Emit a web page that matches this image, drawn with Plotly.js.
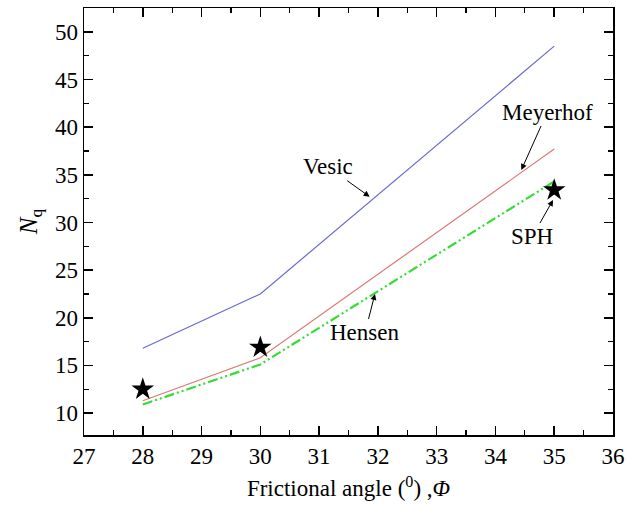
<!DOCTYPE html>
<html><head><meta charset="utf-8">
<script src="https://cdn.plot.ly/plotly-3.0.1.min.js"></script>
<style>html,body{margin:0;padding:0;background:#fff}#c{width:627px;height:523px}</style>
</head><body><div id="c"></div>
<script>
const angles = [28, 30, 35];
const vesic = [16.8, 22.5, 48.5];
const meyerhof = [11.3, 15.8, 37.7];
const hensen = [10.9, 15.1, 34.3];
const sph = [12.5, 16.9, 33.4];

const F = 'Liberation Serif';
const traces = [
  {x: angles, y: vesic, mode: 'lines', line: {color: '#6a6ad2', width: 1.2}, name: 'Vesic'},
  {x: angles, y: meyerhof, mode: 'lines', line: {color: '#e07878', width: 1.2}, name: 'Meyerhof'},
  {x: angles, y: hensen, mode: 'lines', line: {color: '#33dd33', width: 2.2, dash: '10px,3px,2px,3px,2px,3px'}, name: 'Hensen'},
  {x: angles, y: sph, mode: 'markers', marker: {symbol: 'star', size: 17, color: '#000'}, name: 'SPH'}
];
const ax = {
  showline: true, linecolor: '#000', linewidth: 1.5, mirror: 'ticks',
  ticks: 'inside', ticklen: 9, tickwidth: 1.5, tickcolor: '#000',
  showgrid: false, zeroline: false,
  tickfont: {family: F, size: 23, color: '#000'}
};
const ann = (txt, x, y, axp, ayp) => ({x, y, ax: axp, ay: ayp, text: txt, showarrow: true,
  arrowhead: 2, arrowsize: 1.2, arrowwidth: 1, arrowcolor: '#000',
  font: {family: F, size: 23, color: '#000'}});
const layout = {
  width: 627, height: 523, showlegend: false,
  paper_bgcolor: '#fff', plot_bgcolor: '#fff',
  font: {family: F, color: '#000'},
  margin: {l: 84, r: 14, t: 8, b: 88},
  xaxis: Object.assign({}, ax, {range: [27, 36], dtick: 1, tick0: 27,
    minor: {ticks: 'inside', ticklen: 5, dtick: 0.5, tickwidth: 1.2, tickcolor: '#000'},
    title: {text: 'Frictional angle (<sup>0</sup>) ,<i>Φ</i>', font: {family: F, size: 23, color: '#000'}, standoff: 12}}),
  yaxis: Object.assign({}, ax, {range: [7.7, 52.5], dtick: 5, tick0: 10,
    minor: {ticks: 'inside', ticklen: 5, dtick: 2.5, tickwidth: 1.2, tickcolor: '#000'},
    title: {text: '<i>N</i><sub>q</sub>', font: {family: F, size: 25, color: '#000'}, standoff: 10}}),
  annotations: [
    ann('Vesic', 31.86, 32.7, -42, -30),
    ann('Meyerhof', 34.44, 35.5, 26, -58),
    ann('SPH', 34.98, 32.36, -21, 37),
    ann('Hensen', 31.95, 22.5, -10, 39)
  ]
};
Plotly.newPlot('c', traces, layout, {displayModeBar: false, staticPlot: true});
</script></body></html>
